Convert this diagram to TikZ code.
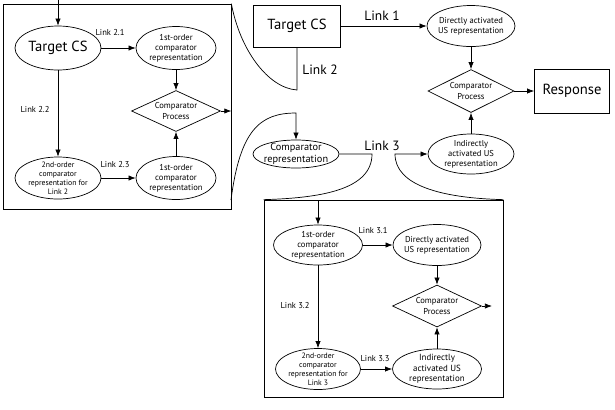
\documentclass[tikz,border=0pt]{standalone}
\usepackage{fontspec}
\setmainfont{PT Sans}
\usetikzlibrary{shapes.geometric,arrows.meta}
\begin{document}
\begin{tikzpicture}[x=0.03cm,y=-0.03cm, line width=0.6pt,
  >={Latex[length=6pt,width=4.5pt]},
  sz/.style 2 args={minimum width=#1*0.03cm, minimum height=#2*0.03cm},
  ell/.style={draw, ellipse, inner xsep=-2pt, inner ysep=-2pt, align=center, font=\fontsize{7.3}{8.6}\selectfont},
  secfont/.style={font=\fontsize{6.6}{7.7}\selectfont},
  dia/.style={draw, diamond, aspect=2, inner sep=0pt, align=center, font=\fontsize{7.3}{8.8}\selectfont},
  boxnode/.style={draw, rectangle, inner sep=0pt, font=\fontsize{12.5}{14}\selectfont},
  lab/.style={font=\fontsize{7.3}{8.6}\selectfont, inner sep=0pt},
  biglab/.style={font=\fontsize{11.5}{13}\selectfont, inner sep=0pt},
  frame/.style={draw, rectangle, inner sep=0pt}]
\useasboundingbox (0,0) rectangle (615,409);

% ---------- left frame (Link 2) ----------
\node[frame, sz={228}{205}] (boxA) at (117,106.5) {};
\coordinate (inA) at (58,0);
\node[ell, sz={86}{44}, font=\fontsize{12.5}{14}\selectfont] (tcs) at (58,48) {Target CS};
\node[ell, sz={80}{43}] (f1) at (176,48) {1st-order\\comparator\\representation};
\node[dia, sz={89}{41}] (cp1) at (176,111) {Comparator\\Process};
\node[ell, secfont, sz={86}{42}] (sec2) at (58,178) {2nd-order\\comparator\\representation for\\Link 2};
\node[ell, sz={80}{43}] (f2) at (176,178) {1st-order\\comparator\\representation};

\draw[->] (inA) -- (tcs.north);
\draw[->] (tcs) -- (f1);
\draw[->] (f1) -- (cp1);
\draw[->] (tcs) -- (sec2);
\draw[->] (sec2) -- (f2);
\draw[->] (f2) -- (cp1);
\draw[->] (cp1.east) -- (cp1.east -| boxA.east);

\node[lab] (l21) at (110,33) {Link 2.1};
\node[lab] (l22) at (35,110) {Link 2.2};
\node[lab] (l23) at (115,164) {Link 2.3};

% ---------- top right ----------
\node[boxnode, sz={87}{42}] (tcs2) at (297,26) {Target CS};
\node[ell, sz={88}{41}] (dUS) at (471,26) {Directly activated\\US representation};
\node[dia, sz={86}{43}] (cpm) at (471,91) {Comparator\\Process};
\node[boxnode, sz={75}{44}] (resp) at (572,91) {Response};
\node[ell, sz={86}{40}] (iUS) at (471,154) {Indirectly\\activated US\\representation};
\node[ell, sz={86}{28}, font=\fontsize{8.8}{10}\selectfont, inner xsep=-6pt, inner ysep=-1.5pt] (crep) at (296,154) {Comparator\\representation};

\draw[->] (tcs2) -- (dUS);
\draw[->] (dUS) -- (cpm);
\draw[->] (cpm) -- (resp);
\draw[->] (iUS) -- (cpm);

\node[biglab] (l1) at (382,16) {Link 1};
\node[biglab] (l2) at (320,70) {Link 2};
\node[biglab] (l3) at (382,146) {Link 3};

% ---------- bottom frame (Link 3) ----------
\node[frame, sz={239}{197}] (boxB) at (383.5,298.5) {};
\coordinate (inB) at (318,200);
\node[ell, sz={89}{40}] (f3) at (318,245) {1st-order\\comparator\\representation};
\node[ell, sz={88}{41}] (dUS3) at (437,245) {Directly activated\\US representation};
\node[dia, sz={89}{42}] (cp3) at (437,306) {Comparator\\Process};
\coordinate (outB) at (492,306);
\node[ell, secfont, sz={85}{41}] (sec3) at (318,369) {2nd-order\\comparator\\representation for\\Link 3};
\node[ell, sz={89}{40}, font=\fontsize{7.6}{8.8}\selectfont] (iUS3) at (437,369) {Indirectly\\activated US\\representation};

\draw[->] (inB) -- (f3.north);
\draw[->] (f3) -- (dUS3);
\draw[->] (dUS3) -- (cp3);
\draw[->] (cp3.east) -- (outB);
\draw[->] (f3) -- (sec3);
\draw[->] (sec3) -- (iUS3);
\draw[->] (iUS3) -- (cp3);

\node[lab] (l31) at (373,230) {Link 3.1};
\node[lab] (l32) at (295,305) {Link 3.2};
\node[lab] (l33) at (375,359) {Link 3.3};

% ---------- connecting curves ----------
\coordinate (c2s) at (231,200);
\draw (tcs2.south) -- (297,90) .. controls (268,88) and (240,50) .. (boxA.north east);
\draw[->] (c2s) .. controls (240,130) and (260,113) .. (296,113) -- (crep.north);
\draw (crep.east) -- (372,154) .. controls (372,190) and (320,198) .. (boxB.north west);
\draw[->] (boxB.north east) .. controls (440,198) and (395,185) .. (395,154) -- (iUS.west);
\end{tikzpicture}
\end{document}
